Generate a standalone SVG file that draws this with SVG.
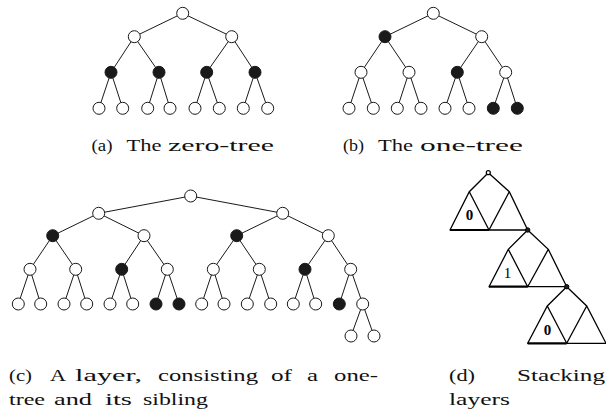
<svg xmlns="http://www.w3.org/2000/svg" width="606" height="415" viewBox="0 0 606 415">
<style>
.e{stroke:#1a1a1a;stroke-width:1;fill:none}
.o{fill:#fff;stroke:#1a1a1a;stroke-width:1}
.f{fill:#1a1a1a;stroke:#1a1a1a;stroke-width:1}
.cap{font-family:"Liberation Serif","Times New Roman",serif;font-size:17.5px;fill:#111}
.d{stroke:#000;stroke-width:1.3;fill:none;stroke-linecap:round}
.dt{stroke:#000;stroke-width:2.2;fill:none}
.lab{font-family:"Liberation Serif",serif;font-size:15px;fill:#000;text-anchor:middle}
</style>
<rect width="606" height="415" fill="#fff"/>

<!-- (a) zero-tree -->
<g id="treeA">
<g id="treeA-edges" class="e">
<path d="M182.7,13.3L134.3,36.7M182.7,13.3L231.7,36.7M134.3,36.7L111,72.3M134.3,36.7L159,72.3M231.7,36.7L206.7,72.3M231.7,36.7L255,72.3M111,72.3L99,108.3M111,72.3L122.7,108.3M159,72.3L147.7,108.3M159,72.3L170,108.3M206.7,72.3L195,108.3M206.7,72.3L219.3,108.3M255,72.3L243.3,108.3M255,72.3L267.7,108.3"/>
</g>
<g id="a-n0"><circle class="o" cx="182.7" cy="13.3" r="6"/></g>
<g id="a-n1"><circle class="o" cx="134.3" cy="36.7" r="6"/></g>
<g id="a-n2"><circle class="o" cx="231.7" cy="36.7" r="6"/></g>
<g id="a-n3"><circle class="f" cx="111" cy="72.3" r="6"/></g>
<g id="a-n4"><circle class="f" cx="159" cy="72.3" r="6"/></g>
<g id="a-n5"><circle class="f" cx="206.7" cy="72.3" r="6"/></g>
<g id="a-n6"><circle class="f" cx="255" cy="72.3" r="6"/></g>
<g id="a-n7"><circle class="o" cx="99" cy="108.3" r="6"/></g>
<g id="a-n8"><circle class="o" cx="122.7" cy="108.3" r="6"/></g>
<g id="a-n9"><circle class="o" cx="147.7" cy="108.3" r="6"/></g>
<g id="a-n10"><circle class="o" cx="170" cy="108.3" r="6"/></g>
<g id="a-n11"><circle class="o" cx="195" cy="108.3" r="6"/></g>
<g id="a-n12"><circle class="o" cx="219.3" cy="108.3" r="6"/></g>
<g id="a-n13"><circle class="o" cx="243.3" cy="108.3" r="6"/></g>
<g id="a-n14"><circle class="o" cx="267.7" cy="108.3" r="6"/></g>
</g>
<g class="cap">
<text x="91.5" y="151" textLength="21" lengthAdjust="spacingAndGlyphs">(a)</text>
<text x="126.5" y="151" textLength="35" lengthAdjust="spacingAndGlyphs">The</text>
<text x="168" y="151" textLength="106" lengthAdjust="spacingAndGlyphs">zero-tree</text>
</g>

<!-- (b) one-tree -->
<g id="treeB">
<g id="treeB-edges" class="e">
<path d="M433.3,13.3L385,36.7M433.3,13.3L481.7,36.7M385,36.7L361,72.3M385,36.7L409,72.3M481.7,36.7L457.3,72.3M481.7,36.7L505.7,72.3M361,72.3L349,108.3M361,72.3L373.3,108.3M409,72.3L397.3,108.3M409,72.3L421,108.3M457.3,72.3L445,108.3M457.3,72.3L469,108.3M505.7,72.3L493.3,108.3M505.7,72.3L517.3,108.3"/>
</g>
<g id="b-n0"><circle class="o" cx="433.3" cy="13.3" r="6"/></g>
<g id="b-n1"><circle class="f" cx="385" cy="36.7" r="6"/></g>
<g id="b-n2"><circle class="o" cx="481.7" cy="36.7" r="6"/></g>
<g id="b-n3"><circle class="o" cx="361" cy="72.3" r="6"/></g>
<g id="b-n4"><circle class="o" cx="409" cy="72.3" r="6"/></g>
<g id="b-n5"><circle class="f" cx="457.3" cy="72.3" r="6"/></g>
<g id="b-n6"><circle class="o" cx="505.7" cy="72.3" r="6"/></g>
<g id="b-n7"><circle class="o" cx="349" cy="108.3" r="6"/></g>
<g id="b-n8"><circle class="o" cx="373.3" cy="108.3" r="6"/></g>
<g id="b-n9"><circle class="o" cx="397.3" cy="108.3" r="6"/></g>
<g id="b-n10"><circle class="o" cx="421" cy="108.3" r="6"/></g>
<g id="b-n11"><circle class="o" cx="445" cy="108.3" r="6"/></g>
<g id="b-n12"><circle class="o" cx="469" cy="108.3" r="6"/></g>
<g id="b-n13"><circle class="f" cx="493.3" cy="108.3" r="6"/></g>
<g id="b-n14"><circle class="f" cx="517.3" cy="108.3" r="6"/></g>
</g>
<g class="cap">
<text x="343" y="151" textLength="21" lengthAdjust="spacingAndGlyphs">(b)</text>
<text x="378" y="151" textLength="35" lengthAdjust="spacingAndGlyphs">The</text>
<text x="420" y="151" textLength="103" lengthAdjust="spacingAndGlyphs">one-tree</text>
</g>

<!-- (c) layer -->
<g id="treeC">
<g id="treeC-edges" class="e">
<path d="M190.7,196L98.7,213.3M190.7,196L282.7,213.3
M98.7,213.3L52.7,235.7M98.7,213.3L144,235.7M282.7,213.3L236.7,235.7M282.7,213.3L328.3,235.7
M52.7,235.7L30,269.3M52.7,235.7L75.7,269.3M144,235.7L121.7,269.3M144,235.7L167.3,269.3M236.7,235.7L213.3,269.3M236.7,235.7L259.3,269.3M328.3,235.7L305,269.3M328.3,235.7L350.7,269.3
M30,269.3L18.3,304M30,269.3L40.7,304M75.7,269.3L64,304M75.7,269.3L86.7,304M121.7,269.3L110,304M121.7,269.3L132.7,304M167.3,269.3L156,304M167.3,269.3L179,304M213.3,269.3L201.7,304M213.3,269.3L224,304M259.3,269.3L247.3,304M259.3,269.3L270.7,304M305,269.3L293.3,304M305,269.3L315.7,304M350.7,269.3L339.3,304M350.7,269.3L362.7,304
M362.7,304L351,336M362.7,304L374,336"/>
</g>
<g id="c-n0"><circle class="o" cx="190.7" cy="196" r="6"/></g>
<g id="c-n1"><circle class="o" cx="98.7" cy="213.3" r="6"/></g>
<g id="c-n2"><circle class="o" cx="282.7" cy="213.3" r="6"/></g>
<g id="c-n3"><circle class="f" cx="52.7" cy="235.7" r="6"/></g>
<g id="c-n4"><circle class="o" cx="144" cy="235.7" r="6"/></g>
<g id="c-n5"><circle class="f" cx="236.7" cy="235.7" r="6"/></g>
<g id="c-n6"><circle class="o" cx="328.3" cy="235.7" r="6"/></g>
<g id="c-n7"><circle class="o" cx="30" cy="269.3" r="6"/></g>
<g id="c-n8"><circle class="o" cx="75.7" cy="269.3" r="6"/></g>
<g id="c-n9"><circle class="f" cx="121.7" cy="269.3" r="6"/></g>
<g id="c-n10"><circle class="o" cx="167.3" cy="269.3" r="6"/></g>
<g id="c-n11"><circle class="o" cx="213.3" cy="269.3" r="6"/></g>
<g id="c-n12"><circle class="o" cx="259.3" cy="269.3" r="6"/></g>
<g id="c-n13"><circle class="f" cx="305" cy="269.3" r="6"/></g>
<g id="c-n14"><circle class="o" cx="350.7" cy="269.3" r="6"/></g>
<g id="c-n15"><circle class="o" cx="18.3" cy="304" r="6"/></g>
<g id="c-n16"><circle class="o" cx="40.7" cy="304" r="6"/></g>
<g id="c-n17"><circle class="o" cx="64" cy="304" r="6"/></g>
<g id="c-n18"><circle class="o" cx="86.7" cy="304" r="6"/></g>
<g id="c-n19"><circle class="o" cx="110" cy="304" r="6"/></g>
<g id="c-n20"><circle class="o" cx="132.7" cy="304" r="6"/></g>
<g id="c-n21"><circle class="f" cx="156" cy="304" r="6"/></g>
<g id="c-n22"><circle class="f" cx="179" cy="304" r="6"/></g>
<g id="c-n23"><circle class="o" cx="201.7" cy="304" r="6"/></g>
<g id="c-n24"><circle class="o" cx="224" cy="304" r="6"/></g>
<g id="c-n25"><circle class="o" cx="247.3" cy="304" r="6"/></g>
<g id="c-n26"><circle class="o" cx="270.7" cy="304" r="6"/></g>
<g id="c-n27"><circle class="o" cx="293.3" cy="304" r="6"/></g>
<g id="c-n28"><circle class="o" cx="315.7" cy="304" r="6"/></g>
<g id="c-n29"><circle class="f" cx="339.3" cy="304" r="6"/></g>
<g id="c-n30"><circle class="o" cx="362.7" cy="304" r="6"/></g>
<g id="c-n31"><circle class="o" cx="351" cy="336" r="6"/></g>
<g id="c-n32"><circle class="o" cx="374" cy="336" r="6"/></g>
</g>
<g class="cap">
<text x="9" y="381" textLength="23" lengthAdjust="spacingAndGlyphs">(c)</text>
<text x="50" y="381" textLength="16" lengthAdjust="spacingAndGlyphs">A</text>
<text x="75" y="381" textLength="67" lengthAdjust="spacingAndGlyphs">layer,</text>
<text x="158" y="381" textLength="100" lengthAdjust="spacingAndGlyphs">consisting</text>
<text x="271" y="381" textLength="21" lengthAdjust="spacingAndGlyphs">of</text>
<text x="307" y="381" textLength="11" lengthAdjust="spacingAndGlyphs">a</text>
<text x="334" y="381" textLength="44" lengthAdjust="spacingAndGlyphs">one-</text>
<text x="9" y="405" textLength="36" lengthAdjust="spacingAndGlyphs">tree</text>
<text x="54" y="405" textLength="38" lengthAdjust="spacingAndGlyphs">and</text>
<text x="105" y="405" textLength="27" lengthAdjust="spacingAndGlyphs">its</text>
<text x="143" y="405" textLength="65" lengthAdjust="spacingAndGlyphs">sibling</text>
</g>

<!-- (d) stacking layers -->
<g id="layer1">
<path class="d" d="M488.3,172.7L469.3,191.7L450,230M469.3,191.7L489,230M488.3,172.7L509.3,191.7L527.7,230M509.3,191.7L489,230M489,230L527.7,230"/>
<path class="dt" d="M450,230L489,230"/>
<circle cx="488.3" cy="172.7" r="2" fill="#fff" stroke="#000" stroke-width="1.2"/>
<text class="lab" x="469.5" y="220" font-weight="bold">0</text>
</g>
<g id="layer2">
<path class="d" d="M527.7,230L508.3,249.3L489,286.7M508.3,249.3L527.7,286.7M527.7,230L548.3,249.3L566.7,286.7M548.3,249.3L527.7,286.7M527.7,286.7L566.7,286.7"/>
<path class="dt" d="M489,286.7L527.7,286.7"/>
<circle cx="527.7" cy="230" r="2.2" fill="#222" stroke="#000" stroke-width="1"/>
<text class="lab" x="507.5" y="278" fill="#333">1</text>
</g>
<g id="layer3">
<path class="d" d="M566.7,286.7L547.3,306L527.7,343.3M547.3,306L566.7,343.3M566.7,286.7L586.7,306L606,343.3M586.7,306L566.7,343.3M566.7,343.3L606,343.3"/>
<path class="dt" d="M527.7,343.3L566.7,343.3"/>
<circle cx="566.7" cy="286.7" r="2.2" fill="#222" stroke="#000" stroke-width="1"/>
<text class="lab" x="547.5" y="335" font-weight="bold">0</text>
</g>
<g class="cap">
<text x="449" y="381" textLength="26" lengthAdjust="spacingAndGlyphs">(d)</text>
<text x="517" y="381" textLength="88" lengthAdjust="spacingAndGlyphs">Stacking</text>
<text x="449" y="405" textLength="61" lengthAdjust="spacingAndGlyphs">layers</text>
</g>
</svg>
